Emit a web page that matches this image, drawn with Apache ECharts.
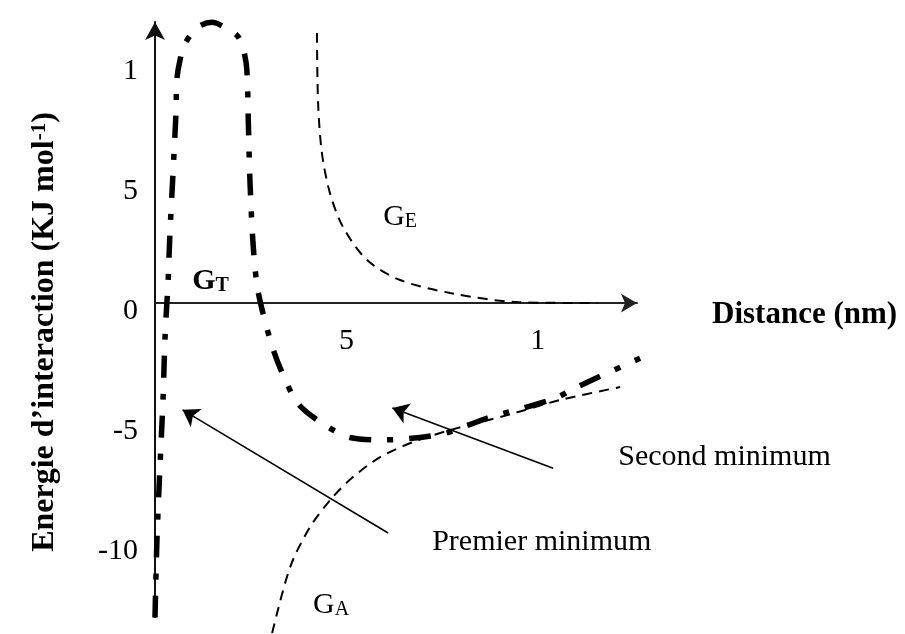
<!DOCTYPE html>
<html>
<head>
<meta charset="utf-8">
<script src="https://cdn.jsdelivr.net/npm/echarts@6/dist/echarts.min.js"></script>
<style>
  html, body { margin: 0; padding: 0; background: #fff; }
  #chart { width: 905px; height: 634px; }
</style>
</head>
<body>
<div id="chart"></div>
<script>
// Total interaction energy G_T (dash-dot)
const gtDistance = [0.00, 0.05, 0.13, 0.21, 0.26, 0.31, 0.34, 0.39, 0.47, 0.55, 0.57, 0.65, 0.78, 1.12, 1.49, 1.91, 2.17, 2.32, 2.40, 2.44, 2.48, 2.56, 2.66, 2.80, 3.06, 3.32, 3.74, 4.36, 5.09, 6.01, 6.92, 7.63, 8.67, 10.40, 11.02, 12.67];
const gtEnergy   = [-13.1, -9.9, -6.8, -4.0, -1.5, 0.0, 0.8, 2.9, 5.4, 8.0, 9.3, 10.1, 10.8, 11.5, 11.7, 11.4, 11.1, 10.5, 9.7, 7.4, 5.1, 2.5, 0.8, -0.3, -1.8, -2.9, -4.2, -5.0, -5.6, -5.7, -5.6, -5.4, -4.8, -4.0, -3.5, -2.3];

// Electrostatic repulsion G_E (dashed)
const geDistance = [4.23, 4.26, 4.36, 4.57, 4.91, 5.54, 6.40, 7.71, 9.46, 11.55];
const geEnergy   = [11.25, 8.33, 6.25, 4.58, 3.17, 1.79, 0.96, 0.42, 0.04, 0.0];

// Van der Waals attraction G_A (dashed)
const gaDistance = [3.06, 3.53, 4.05, 4.62, 5.17, 5.88, 6.74, 7.71, 9.20, 10.58, 12.15];
const gaEnergy   = [-13.75, -11.0, -9.33, -8.13, -7.25, -6.42, -5.79, -5.29, -4.67, -4.04, -3.5];

// Tick values and their printed labels
const yTickValues = [-10, -5, 0, 5, 10];
const yTickLabels = ['-10', '-5', '0', '5', '1'];
const xTickValues = [5, 10];
const xTickLabels = ['5', '1'];

// Annotation arrows: [from, to] in (distance, energy)
const premierArrow = [[6.09, -9.58], [0.72, -4.45]];
const secondArrow  = [[10.40, -6.88], [6.20, -4.37]];

// Annotation texts and anchors
const noteTexts   = ['Premier minimum', 'Second minimum', '{gb|G}{sb|T}', '{g|G}{s|E}', '{g|G}{s|A}'];
const noteAnchors = [[7.24, -9.96], [12.10, -6.42], [0.97, 0.92], [5.96, 3.58], [4.13, -12.58]];

const FONT = '"Liberation Serif", "Times New Roman", serif';

// Axis extents
const X_MIN = 0, X_MAX = 12.59;
const Y_MIN = -13.08, Y_MAX = 11.71;
const GRID = { left: 155, top: 22, width: 482, height: 595 };

const zip = (xs, ys) => xs.map((x, i) => [x, ys[i]]);
const lookup = (values, labels) => v => {
  const i = values.findIndex(t => Math.abs(t - v) < 1e-6);
  return i >= 0 ? labels[i] : '';
};

// The distance axis is drawn across the energy = 0 level
const xAxisOffset = -GRID.height * (0 - Y_MIN) / (Y_MAX - Y_MIN);

const chart = echarts.init(document.getElementById('chart'), null, { renderer: 'canvas' });

const richText = {
  g:  { fontFamily: FONT, fontSize: 30, color: '#000', lineHeight: 30 },
  s:  { fontFamily: FONT, fontSize: 20, color: '#000', lineHeight: 12, verticalAlign: 'bottom' },
  gb: { fontFamily: FONT, fontSize: 30, fontWeight: 'bold', color: '#000', lineHeight: 30 },
  sb: { fontFamily: FONT, fontSize: 20, fontWeight: 'bold', color: '#000', lineHeight: 16, verticalAlign: 'bottom' }
};

chart.setOption({
  backgroundColor: '#fff',
  animation: false,
  grid: Object.assign({ outerBoundsMode: 'none', containLabel: false }, GRID),
  xAxis: {
    type: 'value',
    position: 'bottom',
    offset: xAxisOffset,
    min: X_MIN,
    max: X_MAX,
    name: 'Distance (nm)',
    nameLocation: 'end',
    nameGap: 75,
    nameTextStyle: { fontFamily: FONT, fontSize: 31, fontWeight: 'bold', color: '#000', verticalAlign: 'top', lineHeight: 24 },
    axisLine: {
      show: true, onZero: false,
      lineStyle: { color: '#222', width: 2 },
      symbol: ['none', 'arrow'], symbolSize: [14, 16]
    },
    axisTick: { show: false },
    splitLine: { show: false },
    axisLabel: {
      customValues: xTickValues,
      formatter: lookup(xTickValues, xTickLabels),
      margin: 23,
      fontFamily: FONT, fontSize: 30, color: '#000'
    }
  },
  yAxis: {
    type: 'value',
    min: Y_MIN,
    max: Y_MAX,
    axisLine: {
      show: true, onZero: false,
      lineStyle: { color: '#111', width: 2 },
      symbol: ['none', 'arrow'], symbolSize: [15, 18]
    },
    axisTick: { show: false },
    splitLine: { show: false },
    axisLabel: {
      customValues: yTickValues,
      formatter: lookup(yTickValues, yTickLabels),
      margin: 17,
      verticalAlign: 'top',
      lineHeight: 16,
      fontFamily: FONT, fontSize: 30, color: '#000'
    }
  },
  graphic: [{
    type: 'text',
    x: 45, y: 332,
    rotation: Math.PI / 2,
    style: {
      text: '{t|Energie d’interaction (KJ mol}{sup|-1}{t|)}',
      align: 'center', verticalAlign: 'middle',
      rich: {
        t:   { fontFamily: FONT, fontSize: 32, fontWeight: 'bold', fill: '#000', lineHeight: 32 },
        sup: { fontFamily: FONT, fontSize: 21, fontWeight: 'bold', fill: '#000', lineHeight: 32, verticalAlign: 'top', padding: [0, 0, 10, 0] }
      }
    }
  }],
  series: [
    {
      name: 'G_E', type: 'line', data: zip(geDistance, geEnergy),
      showSymbol: false, symbol: 'none', smooth: 0.3, clip: false,
      lineStyle: { color: '#000', width: 2, type: [10, 7] }
    },
    {
      name: 'G_A', type: 'line', data: zip(gaDistance, gaEnergy),
      showSymbol: false, symbol: 'none', smooth: 0.3, clip: false,
      lineStyle: { color: '#000', width: 2, type: [10, 7] }
    },
    {
      name: 'G_T', type: 'line', data: zip(gtDistance, gtEnergy),
      showSymbol: false, symbol: 'none', smooth: 0.3, clip: false,
      lineStyle: { color: '#000', width: 5.5, type: [22, 16, 6, 16] }
    },
    {
      name: 'arrows', type: 'lines', coordinateSystem: 'cartesian2d',
      symbol: ['none', 'arrow'], symbolSize: [12, 16],
      lineStyle: { color: '#000', width: 1.5, opacity: 1, curveness: 0 },
      itemStyle: { color: '#000' },
      data: [{ coords: premierArrow }, { coords: secondArrow }],
      silent: true, z: 5
    },
    {
      name: 'notes', type: 'scatter', symbolSize: 0, silent: true, clip: false,
      itemStyle: { opacity: 1, color: '#000' },
      data: noteAnchors.map((p, i) => ({ value: p, text: noteTexts[i] })),
      label: {
        show: true, position: 'right', distance: 0, opacity: 1,
        align: 'left', verticalAlign: 'middle',
        fontFamily: FONT, fontSize: 30, color: '#000',
        formatter: p => p.data.text,
        rich: richText
      }
    }
  ]
});
</script>
</body>
</html>
